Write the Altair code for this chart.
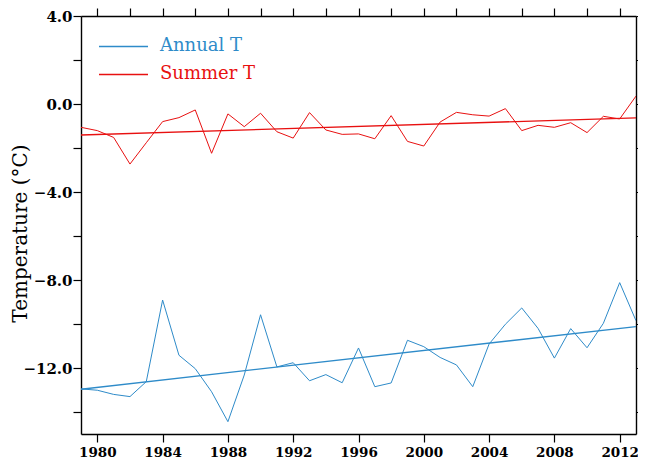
import altair as alt
import pandas as pd

years = list(range(1979, 2014))
annual = [-12.95, -13.01, -13.20, -13.30, -12.62, -8.91, -11.42, -12.03, -13.08, -14.44,
          -12.32, -9.58, -11.95, -11.76, -12.58, -12.30, -12.67, -11.09, -12.85, -12.68,
          -10.74, -11.03, -11.52, -11.86, -12.85, -10.91, -10.01, -9.27, -10.20, -11.55,
          -10.21, -11.08, -9.97, -8.12, -9.85]
summer = [-1.06, -1.21, -1.52, -2.73, -1.76, -0.80, -0.62, -0.27, -2.24, -0.45,
          -1.03, -0.42, -1.26, -1.55, -0.39, -1.18, -1.38, -1.36, -1.58, -0.53,
          -1.70, -1.91, -0.82, -0.38, -0.49, -0.55, -0.21, -1.21, -0.97, -1.06,
          -0.85, -1.30, -0.56, -0.68, 0.36]
series_names = ["Annual T", "Summer T"]
colors = ["#2E8BC9", "#E81010"]
x_tick_values = list(range(1980, 2013, 2))
y_tick_values = list(range(-14, 5, 2))

df = pd.DataFrame({
    "year": years * 2,
    "value": annual + summer,
    "series": [series_names[0]] * len(years) + [series_names[1]] * len(years),
})
legend_df = pd.DataFrame({"series": series_names})

FONT = "DejaVu Serif"

color = alt.Color("series:N", scale=alt.Scale(domain=series_names, range=colors), legend=None)
xscale = alt.Scale(domain=[1979, 2013], nice=False, zero=False)
yscale = alt.Scale(domain=[-15, 4], nice=False, zero=False)

common_axis = dict(grid=False, tickSize=8, tickColor="black", domainColor="black",
                   tickWidth=1.2, domainWidth=1.4, labelFont=FONT, labelColor="black")

x_axis = alt.Axis(values=x_tick_values, title=None,
                  labelExpr="datum.value % 4 == 0 ? format(datum.value, 'd') : ''",
                  labelFontSize=13.5, labelPadding=3, labelFontWeight="bold", **common_axis)
y_axis = alt.Axis(values=y_tick_values, title="Temperature (°C)",
                  labelExpr="datum.value % 4 == 0 ? format(datum.value, '.1f') : ''",
                  labelFontSize=15, labelPadding=1, labelFontWeight="bold",
                  titleFont=FONT, titleFontSize=20, titleFontWeight="normal", titleColor="black",
                  titleX=-51, titleY=217, titleAngle=270, titleAlign="center", titleBaseline="bottom",
                  **common_axis)
top_axis = alt.Axis(values=x_tick_values, orient="top", labels=False, title=None, **common_axis)
right_axis = alt.Axis(values=y_tick_values, orient="right", labels=False, title=None, **common_axis)

base = alt.Chart(df)
lines = base.mark_line(strokeWidth=1, clip=True).encode(
    x=alt.X("year:Q", scale=xscale, axis=x_axis),
    y=alt.Y("value:Q", scale=yscale, axis=y_axis),
    color=color,
)
trend = base.transform_regression("year", "value", groupby=["series"]).mark_line(
    strokeWidth=1.3, clip=True
).encode(
    x=alt.X("year:Q", scale=xscale),
    y=alt.Y("value:Q", scale=yscale),
    color=color,
)

legend_layers = []
for i, name in enumerate(series_names):
    yy = 30.5 + 28 * i
    leg = alt.Chart(legend_df).transform_filter(alt.datum.series == name)
    legend_layers.append(leg.mark_rule(strokeWidth=1.3).encode(
        x=alt.value(18), x2=alt.value(67), y=alt.value(yy), color=color))
    legend_layers.append(leg.mark_text(align="left", baseline="middle", font=FONT,
                                       fontSize=18, fontWeight="normal").encode(
        x=alt.value(79), y=alt.value(yy - 0.5), text="series:N", color=color))

main = alt.layer(lines, trend, *legend_layers)

frame = alt.Chart(df).mark_point(opacity=0).encode(
    x=alt.X("year:Q", scale=xscale, axis=top_axis),
    y=alt.Y("value:Q", scale=yscale, axis=right_axis),
)

chart = alt.layer(main, frame).resolve_scale(x="independent", y="independent").properties(
    width=555, height=418,
    autosize=alt.AutoSizeParams(type="none"),
    padding={"left": 73, "top": 8, "right": 2, "bottom": 26},
).configure_view(stroke="black", strokeWidth=1.2).configure(background="white")

chart.save("out.html", embed_options={"renderer": "svg", "actions": False})
